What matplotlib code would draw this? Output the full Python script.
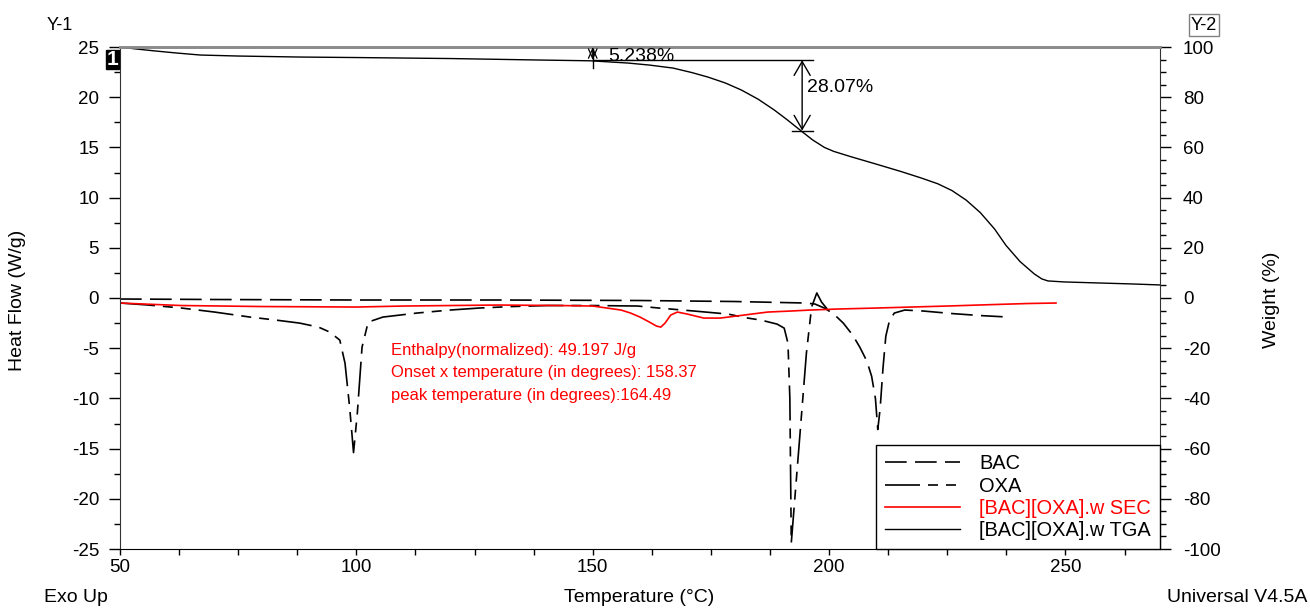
import matplotlib
matplotlib.use("Agg")
import matplotlib.pyplot as plt
from matplotlib.ticker import MultipleLocator

plt.rcParams['font.family'] = ['Liberation Sans', 'DejaVu Sans']
plt.rcParams['axes.unicode_minus'] = False

# ---- DSC: BAC ----
bac_t = [50, 70, 100, 130, 160, 180, 190, 195, 197, 199, 201, 203, 205, 206.5,
         208, 209, 209.8, 210.3, 210.8, 211.4, 212, 212.8, 213.8, 216, 220, 226, 232, 238]
bac_hf = [-0.1, -0.15, -0.2, -0.2, -0.25, -0.35, -0.45, -0.5, -0.6, -1.0, -1.6, -2.5,
          -3.7, -4.9, -6.3, -7.8, -10.0, -13.1, -11.0, -7.0, -3.8, -2.2, -1.5, -1.2,
          -1.3, -1.55, -1.75, -1.9]

# ---- DSC: OXA ----
oxa_t = [50, 56, 63, 70, 77.5, 83, 88, 92, 94.4, 96.5, 97.6, 98.6, 99.4, 100.2, 101.2,
         102.5, 105.6, 112.8, 119.8, 126, 133, 140.5, 150, 159.5, 164, 171.5, 178.6,
         182.8, 185.6, 189, 190.5, 191.3, 191.7, 192.0, 193.8, 195.2, 196.3, 197.4,
         198.4, 199.6]
oxa_hf = [-0.5, -0.7, -1.0, -1.4, -1.9, -2.2, -2.5, -2.9, -3.4, -4.2, -6.5, -11.0, -15.4,
          -11.5, -4.9, -2.4, -1.9, -1.5, -1.2, -1.0, -0.85, -0.75, -0.75, -0.8, -1.0,
          -1.3, -1.6, -2.0, -2.2, -2.6, -3.0, -4.5, -10.0, -24.4, -13.8, -5.5, -0.9,
          0.5, -0.4, -1.1]

# ---- DSC: [BAC][OXA].w ----
sec_t = [50, 55, 63, 80, 100, 110, 120, 130, 143, 150, 153, 156, 158, 160, 162, 163.5,
         164.4, 165.3, 166.5, 167.9, 170, 173.5, 177, 182, 187, 191.8, 196, 201.7, 210,
         217.4, 225, 235, 242, 248]
sec_hf = [-0.5, -0.6, -0.75, -0.85, -0.9, -0.8, -0.75, -0.7, -0.75, -0.8, -1.0, -1.2,
          -1.5, -1.9, -2.4, -2.8, -2.9, -2.5, -1.7, -1.4, -1.6, -2.0, -2.0, -1.7, -1.4,
          -1.3, -1.2, -1.1, -1.0, -0.9, -0.8, -0.65, -0.55, -0.5]

# ---- TGA: [BAC][OXA].w ----
tga_t = [50, 53, 57, 62, 67, 75, 88, 100, 120, 139, 149.6, 157.5, 162, 167, 171, 174.4,
         178, 181.4, 185, 188.4, 191, 194, 196.5, 199, 201, 204.6, 209.5, 215.2, 219.5,
         223, 226, 229, 232, 235, 237.4, 240.4, 243.4, 245, 246.3, 249.7, 255, 264, 270]
tga_w = [100, 99.3, 98.5, 97.6, 96.8, 96.4, 96.0, 95.8, 95.4, 94.8, 94.5, 93.6, 92.8,
         91.6, 89.8, 88.0, 85.7, 82.9, 79.2, 74.9, 71.2, 66.7, 63.0, 60.0, 58.4, 56.3,
         53.6, 50.4, 47.8, 45.5, 42.8, 39.0, 34.0, 27.5, 21.0, 14.5, 9.6, 7.6, 6.8, 6.4,
         6.1, 5.6, 5.2]

# step analysis results
step1_t, step1_top, step1_loss = 150.0, 100.0, 5.238
step2_t, step2_loss = 194.3, 28.07
step1_bot = step1_top - step1_loss
step2_bot = step1_bot - step2_loss

peak_lines = ["Enthalpy(normalized): 49.197 J/g",
              "Onset x temperature (in degrees): 158.37",
              "peak temperature (in degrees):164.49"]

legend_labels = ["BAC", "OXA", "[BAC][OXA].w SEC", "[BAC][OXA].w TGA"]

W, H = 1310, 610
fig = plt.figure(figsize=(W / 100, H / 100), dpi=100)
ax = fig.add_axes([120 / W, 61 / H, 1040 / W, 502 / H])
ax2 = ax.twinx()

lw = 1.2
l_bac, = ax.plot(bac_t, bac_hf, color='black', lw=lw, linestyle=(0, (13, 5)))
l_oxa, = ax.plot(oxa_t, oxa_hf, color='black', lw=lw,
                 linestyle=(0, (21, 4.8, 6, 4.8, 6, 4.8)))
l_sec, = ax.plot(sec_t, sec_hf, color='red', lw=lw)
l_tga, = ax2.plot(tga_t, tga_w, color='black', lw=1.0)

ax.set_xlim(50, 270)
ax.set_ylim(-25, 25)
ax2.set_ylim(-100, 100)

ax.xaxis.set_major_locator(MultipleLocator(50))
ax.xaxis.set_minor_locator(MultipleLocator(12.5))
ax.yaxis.set_major_locator(MultipleLocator(5))
ax.yaxis.set_minor_locator(MultipleLocator(2.5))
ax2.yaxis.set_major_locator(MultipleLocator(20))
ax2.yaxis.set_minor_locator(MultipleLocator(5))

fs_tick = 13.5
ax.tick_params(axis='y', which='major', direction='out', length=8, width=1,
               labelsize=fs_tick, pad=7)
ax.tick_params(axis='y', which='minor', direction='out', length=4.5, width=1)
ax.tick_params(axis='x', which='both', direction='out', length=4.5, width=1,
               labelsize=fs_tick, pad=2.5)
ax2.tick_params(axis='y', which='major', direction='out', length=8, width=1,
                labelsize=fs_tick, pad=8.5)
ax2.tick_params(axis='y', which='minor', direction='out', length=4.5, width=1)

for a in (ax, ax2):
    a.spines['top'].set_color('#8c8c8c')
    a.spines['top'].set_linewidth(2)
ax.spines['right'].set_visible(False)
ax2.spines['left'].set_visible(False)
ax2.spines['bottom'].set_visible(False)
ax.spines['left'].set_color('#333333')
ax2.spines['right'].set_color('#333333')

# step annotations on the weight curve
ax2.plot([step1_t, step1_t], [step1_top + 1.6, step1_bot - 3.0], color='black', lw=1)
ax2.annotate('', xy=(step1_t, step1_top), xytext=(step1_t, step1_bot),
             arrowprops=dict(arrowstyle='<->,head_length=0.5,head_width=0.22',
                             lw=0.9, color='black', shrinkA=0, shrinkB=0,
                             mutation_scale=14))
ax2.plot([step1_t, 196.5], [step1_bot, step1_bot], color='black', lw=1)
ax2.annotate('', xy=(step2_t, step1_bot), xytext=(step2_t, step2_bot),
             arrowprops=dict(arrowstyle='<->,head_length=0.5,head_width=0.29',
                             lw=1, color='black', shrinkA=0, shrinkB=0,
                             mutation_scale=20))
ax2.plot([step2_t - 2.2, step2_t + 2.3], [step2_bot, step2_bot], color='black', lw=1)
ax2.text(153.2, 96.4, f"{step1_loss:.3f}%", fontsize=14, ha='left', va='center')
ax2.text(195.3, 83.7, f"{step2_loss:.2f}%", fontsize=14, ha='left', va='center')

# peak integration result
for y, s in zip([-5.2, -7.4, -9.7], peak_lines):
    ax.text(107.4, y, s, color='red', fontsize=12, ha='left', va='center')

leg = ax2.legend([l_bac, l_oxa, l_sec, l_tga], legend_labels, loc='lower right',
                 bbox_to_anchor=(1, 0), borderaxespad=0, fancybox=False,
                 edgecolor='black', framealpha=1, fontsize=14.4, handlelength=3.75,
                 handletextpad=0.95, labelspacing=0.16, borderpad=0.45)
leg.get_frame().set_linewidth(1)
leg.get_texts()[2].set_color('red')

# outer labels
fs_lab = 14
fig.text(18 / W, 1 - 300 / H, 'Heat Flow (W/g)', rotation=90, ha='center',
         va='center', fontsize=fs_lab)
fig.text(1271 / W, 1 - 300 / H, 'Weight (%)', rotation=90, ha='center',
         va='center', fontsize=fs_lab)
fig.text(639 / W, 1 - 597 / H, 'Temperature (°C)', ha='center', va='center',
         fontsize=fs_lab)
fig.text(76 / W, 1 - 597 / H, 'Exo Up', ha='center', va='center', fontsize=fs_lab)
fig.text(1237 / W, 1 - 597 / H, 'Universal V4.5A', ha='center', va='center',
         fontsize=fs_lab)
fig.text(60 / W, 1 - 25 / H, 'Y-1', ha='center', va='center', fontsize=13)
fig.text(1204 / W, 1 - 25 / H, 'Y-2', ha='center', va='center', fontsize=13,
         bbox=dict(boxstyle='square,pad=0.12', facecolor='white', edgecolor='#808080',
                   lw=1))
fig.text(112.5 / W, 1 - 59.5 / H, '1', ha='center', va='center', fontsize=15,
         color='white', fontweight='bold',
         bbox=dict(boxstyle='square,pad=0.02', facecolor='black', edgecolor='black'))

fig.savefig('out.png', dpi=100)
